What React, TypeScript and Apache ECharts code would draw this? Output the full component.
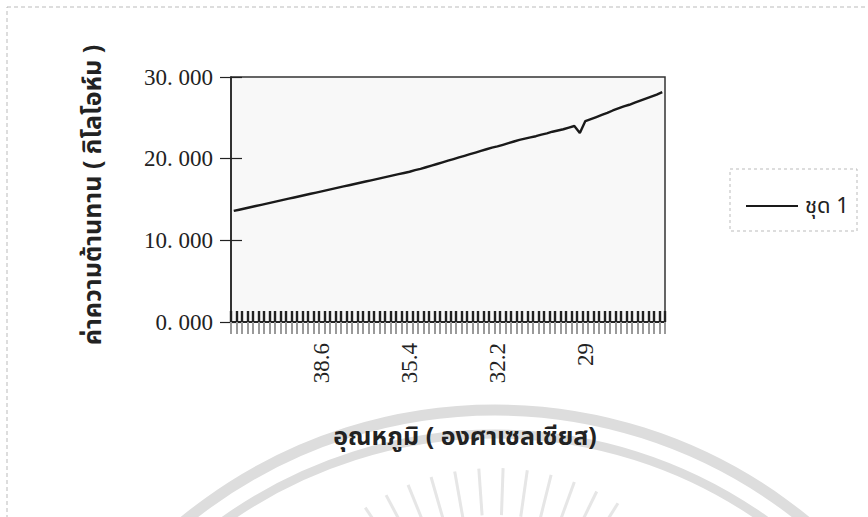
import React, { useEffect, useRef } from "react";
import * as echarts from "echarts";

const categories: string[] = [
  "41.8", "41.6", "41.4", "41.2", "41", "40.8", "40.6", "40.4", "40.2", "40",
  "39.8", "39.6", "39.4", "39.2", "39", "38.8", "38.6", "38.4", "38.2", "38",
  "37.8", "37.6", "37.4", "37.2", "37", "36.8", "36.6", "36.4", "36.2", "36",
  "35.8", "35.6", "35.4", "35.2", "35", "34.8", "34.6", "34.4", "34.2", "34",
  "33.8", "33.6", "33.4", "33.2", "33", "32.8", "32.6", "32.4", "32.2", "32",
  "31.8", "31.6", "31.4", "31.2", "31", "30.8", "30.6", "30.4", "30.2", "30",
  "29.8", "29.6", "29.4", "29.2", "29", "28.8", "28.6", "28.4", "28.2", "28",
  "27.8", "27.6", "27.4", "27.2", "27", "26.8", "26.6", "26.4", "26.2",
];

const resistance: number[] = [
  13.6, 13.75, 13.9, 14.05, 14.2, 14.35, 14.5, 14.65, 14.8, 14.95,
  15.1, 15.25, 15.4, 15.55, 15.7, 15.85, 16.0, 16.15, 16.3, 16.45,
  16.6, 16.75, 16.9, 17.05, 17.2, 17.35, 17.5, 17.65, 17.8, 17.95,
  18.1, 18.25, 18.4, 18.6, 18.75, 18.95, 19.15, 19.35, 19.55, 19.75,
  19.95, 20.15, 20.35, 20.55, 20.75, 20.95, 21.15, 21.35, 21.5, 21.7,
  21.9, 22.1, 22.3, 22.45, 22.6, 22.75, 22.95, 23.1, 23.3, 23.45,
  23.6, 23.8, 24.0, 23.15, 24.6, 24.85, 25.1, 25.35, 25.6, 25.9,
  26.15, 26.4, 26.6, 26.85, 27.1, 27.35, 27.6, 27.85, 28.15,
];

const seriesName = "ชุด 1";
const yTitle = "ค่าความต้านทาน ( กิโลโอห์ม )";
const xTitle = "อุณหภูมิ ( องศาเซลเซียส)";
const yMin = 0;
const yMax = 30;
const yStep = 10;

const thaiFont = "'Noto Sans Thai', 'Noto Sans Thai Looped', 'Noto Sans', 'DejaVu Sans', sans-serif";
const serifFont = "'Liberation Serif', 'DejaVu Serif', serif";

// decorative watermark rays (angles in degrees above the horizontal)
const rayAngles: number[] = [58, 64, 70, 76, 82, 88, 94, 100, 106, 112, 118, 124];

export default function App() {
  const ref = useRef<HTMLDivElement>(null);
  useEffect(() => {
    if (!ref.current) return;
    const chart = echarts.init(ref.current, undefined, { renderer: "svg" });
    const gridRect = { left: 231, right: 203, top: 77, bottom: 195 };
    const rays = rayAngles.map((a) => {
      const t = (a * Math.PI) / 180;
      const cx = 495, cy = 700;
      return {
        type: "line",
        silent: true,
        z: -10,
        shape: {
          x1: cx + Math.cos(t) * 185,
          y1: cy - Math.sin(t) * 185,
          x2: cx + Math.cos(t) * 232,
          y2: cy - Math.sin(t) * 232,
        },
        style: { stroke: "#e6e6e6", lineWidth: 3 },
      };
    });
    chart.setOption({
      animation: false,
      backgroundColor: "#ffffff",
      grid: [
        { ...gridRect, show: true, backgroundColor: "#f8f8f8", borderColor: "#333", borderWidth: 1.5 },
        { ...gridRect, show: false },
      ],
      legend: {
        show: true,
        left: 741,
        top: 190,
        icon: "rect",
        itemWidth: 52,
        itemHeight: 2,
        itemGap: 4,
        textStyle: { fontFamily: thaiFont, fontSize: 22, color: "#222", padding: [0, 0, 0, 2] },
        data: [seriesName],
      },
      xAxis: [
        {
          type: "category",
          gridIndex: 0,
          data: categories,
          boundaryGap: true,
          axisLine: { show: true, lineStyle: { color: "#222", width: 1.5 } },
          axisTick: { show: true, interval: 0, length: 12, inside: false, lineStyle: { color: "#9a9a9a", width: 2 } },
          axisLabel: {
            interval: (idx: number) => idx > 0 && idx % 16 === 0,
            rotate: 90,
            margin: 21,
            fontFamily: serifFont,
            fontSize: 23,
            color: "#222",
          },
          splitLine: { show: false },
        },
        {
          type: "category",
          gridIndex: 1,
          data: categories,
          boundaryGap: true,
          axisLine: { show: true, lineStyle: { color: "#222", width: 1.5 } },
          axisTick: { show: true, interval: 0, length: 11, inside: true, lineStyle: { color: "#222", width: 2.4 } },
          axisLabel: { show: false },
          splitLine: { show: false },
        },
      ],
      yAxis: [
        {
          type: "value",
          gridIndex: 0,
          min: yMin,
          max: yMax,
          interval: yStep,
          axisLine: { show: true, lineStyle: { color: "#222", width: 1.5 } },
          axisTick: { show: true, length: 11, inside: false, lineStyle: { color: "#222", width: 1.2 } },
          axisLabel: {
            margin: 18,
            fontFamily: serifFont,
            fontSize: 23,
            color: "#222",
            formatter: (v: number) => v.toFixed(3).replace(".", ". "),
          },
          splitLine: { show: false },
        },
        {
          type: "value",
          gridIndex: 1,
          min: yMin,
          max: yMax,
          interval: yStep,
          axisLine: { show: false },
          axisTick: { show: true, length: 11, inside: true, lineStyle: { color: "#222", width: 1.2 } },
          axisLabel: { show: false },
          splitLine: { show: false },
        },
      ],
      series: [
        {
          name: seriesName,
          type: "line",
          xAxisIndex: 0,
          yAxisIndex: 0,
          data: resistance,
          symbol: "none",
          lineStyle: { color: "#1a1a1a", width: 2.4 },
          itemStyle: { color: "#1a1a1a" },
        },
      ],
      graphic: [
        {
          type: "rect",
          silent: true,
          z: -10,
          shape: { x: 7, y: 7, width: 900, height: 560 },
          style: { fill: "none", stroke: "#bbb", lineWidth: 1, lineDash: [4, 3] },
        },
        {
          type: "arc",
          silent: true,
          z: -10,
          shape: { cx: 495, cy: 900, r: 490, startAngle: Math.PI * 1.1, endAngle: Math.PI * 1.9 },
          style: { stroke: "#dddddd", lineWidth: 11, fill: "none" },
        },
        {
          type: "arc",
          silent: true,
          z: -10,
          shape: { cx: 495, cy: 900, r: 466, startAngle: Math.PI * 1.1, endAngle: Math.PI * 1.9 },
          style: { stroke: "#dddddd", lineWidth: 9, fill: "none" },
        },
        ...rays,
        {
          type: "rect",
          silent: true,
          shape: { x: 730, y: 169, width: 127, height: 62 },
          style: { fill: "none", stroke: "#bbb", lineWidth: 1, lineDash: [3, 3] },
        },
        {
          type: "text",
          silent: true,
          x: 93,
          y: 195,
          rotation: Math.PI / 2,
          style: {
            text: yTitle,
            align: "center",
            verticalAlign: "middle",
            fontFamily: thaiFont,
            fontSize: 25,
            fontWeight: "bold",
            fill: "#222",
          },
        },
        {
          type: "text",
          silent: true,
          x: 465,
          y: 437,
          style: {
            text: xTitle,
            align: "center",
            verticalAlign: "middle",
            fontFamily: thaiFont,
            fontSize: 25,
            fontWeight: "bold",
            fill: "#222",
          },
        },
      ],
    });
    return () => chart.dispose();
  }, []);
  return (
    <div
      ref={ref}
      style={{ position: "fixed", left: 0, top: 0, width: 868, height: 517 }}
    />
  );
}
